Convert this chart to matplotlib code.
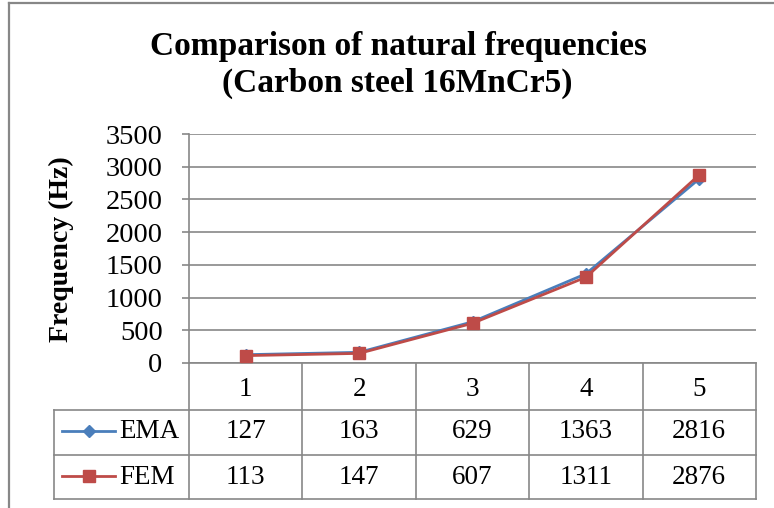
import matplotlib.pyplot as plt
import matplotlib.lines as mlines

# data
modes = [1, 2, 3, 4, 5]
ema = [127, 163, 629, 1363, 2816]
fem = [113, 147, 607, 1311, 2876]
series_names = ['EMA', 'FEM']
y_ticks = [0, 500, 1000, 1500, 2000, 2500, 3000, 3500]

plt.rcParams['font.family'] = ['Liberation Serif', 'DejaVu Serif']

W, H = 774, 508
grey = '#878787'
blue = '#4A7EBB'
red = '#BE4B48'

fig = plt.figure(figsize=(W / 100, H / 100), dpi=100)

# plot area in pixels
L, R, T, B = 189, 756, 134, 363
ax = fig.add_axes([L / W, 1 - B / H, (R - L) / W, (B - T) / H])
ax.plot(modes, ema, color=blue, lw=2, marker='D', ms=6, zorder=3)
ax.plot(modes, fem, color=red, lw=2, marker='s', ms=8.5, zorder=4)
ax.set_xlim(0.5, 5.5)
ax.set_ylim(0, 3500)
ax.set_yticks(y_ticks)
ax.set_yticklabels([str(v) for v in y_ticks], fontsize=20.5)
ax.set_xticks([])
ax.grid(axis='y', color=grey, lw=1.2)
ax.set_axisbelow(True)
for s in ['top', 'right']:
    ax.spines[s].set_visible(False)
for s in ['left', 'bottom']:
    ax.spines[s].set_color(grey)
    ax.spines[s].set_linewidth(1.2)
ax.tick_params(axis='y', length=5, color=grey, width=1.2, pad=14)

fig.text(61 / W, 1 - 249 / H, 'Frequency (Hz)', rotation=90,
         ha='center', va='center', fontsize=20, fontweight='bold')

# overlay in pixel coords for the data table and border
ov = fig.add_axes([0, 0, 1, 1], zorder=-1)
ov.set_xlim(0, W)
ov.set_ylim(H, 0)
ov.axis('off')
ov.patch.set_alpha(0)

ov.plot([9, 9], [3, H], color=grey, lw=1.6)
ov.plot([9, W], [3, 3], color=grey, lw=1.6)

fig.text(398 / W, 1 - 46 / H, 'Comparison of natural frequencies',
         ha='center', va='center', fontsize=24, fontweight='bold')
fig.text(397 / W, 1 - 83 / H, '(Carbon steel 16MnCr5)',
         ha='center', va='center', fontsize=24, fontweight='bold')

cw = (R - L) / len(modes)
edges = [L + i * cw for i in range(len(modes) + 1)]
rows = [363, 410, 455, 499]
tl = 54
for x in edges:
    ov.plot([x, x], [rows[0], rows[-1]], color=grey, lw=1.2)
ov.plot([tl, tl], [rows[1], rows[-1]], color=grey, lw=1.2)
for y in rows[1:]:
    ov.plot([tl, R], [y, y], color=grey, lw=1.2)

for i, m in enumerate(modes):
    cx = L + (i + 0.5) * cw
    ov.text(cx, 389, str(m), ha='center', va='center', fontsize=19.5)
    ov.text(cx, 432, str(ema[i]), ha='center', va='center', fontsize=19.5)
    ov.text(cx, 477, str(fem[i]), ha='center', va='center', fontsize=19.5)

for name, col, mk, ms, y in [(series_names[0], blue, 'D', 6, 431),
                             (series_names[1], red, 's', 8.5, 476)]:
    ov.add_line(mlines.Line2D([62, 115], [y, y], color=col, lw=2))
    ov.plot([88.5], [y], marker=mk, ms=ms, color=col)
    ov.text(119, y + 1, name, ha='left', va='center', fontsize=19.5)

fig.savefig('out.png', dpi=100)
